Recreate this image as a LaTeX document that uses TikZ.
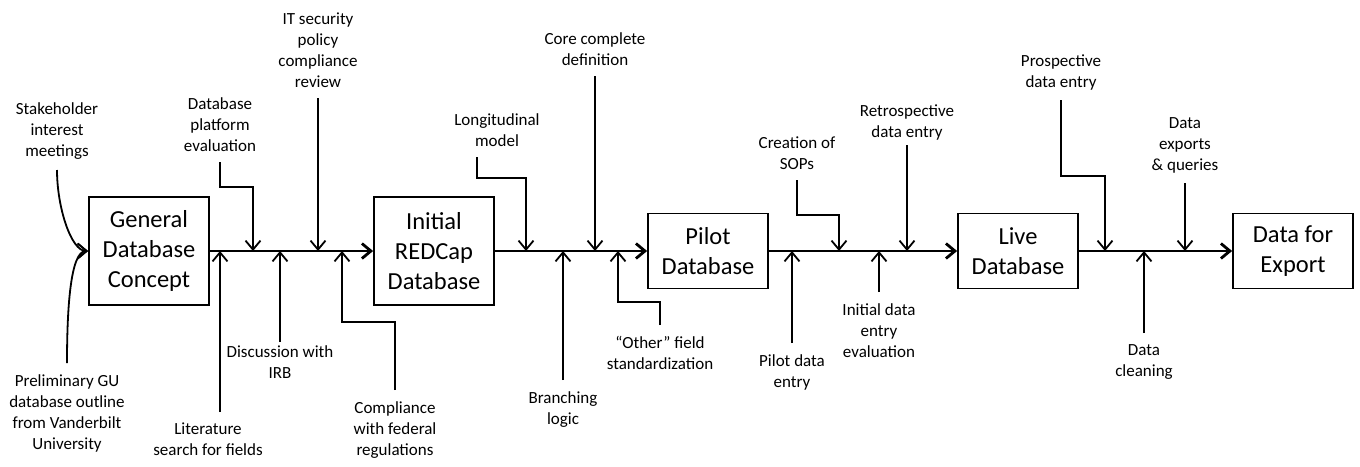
\documentclass[tikz,border=0pt]{standalone}
\usepackage{fontspec}
\setmainfont{Carlito}
\usetikzlibrary{positioning}
\usetikzlibrary{arrows.meta}
\tikzset{
    % Open barbed arrow heads, as in the original
    >={Straight Barb[length=9pt,width=15pt]},
%
    % Boxes for the stages of the database
    stage/.style={draw, line width=1.8pt, minimum width=120pt,
        align=center, font=\fontsize{24.5}{30}\selectfont},
    tall stage/.style={stage, minimum height=108pt},
    short stage/.style={stage, minimum height=75pt},
    % Labels for the inputs above and below the main line
    input/.style={align=center, font=\fontsize{17}{21}\selectfont},
    above input/.style={input, anchor=south, inner ysep=10pt},
    below input/.style={input, anchor=north, inner ysep=11pt},
    % Lines
    flow/.style={line width=2.8pt, ->},
    feed/.style={line width=1.8pt, ->},
}

\begin{document}
\begin{tikzpicture}[x=1pt, y=-1pt]
\useasboundingbox (0,0) rectangle (1360,466);

% The stages
\path
    (149,251) node (concept) [tall stage] {General\\Database\\Concept}
    (434,251) node (redcap) [tall stage] {Initial\\REDCap\\Database}
    (708,251) node (pilot) [short stage] {Pilot\\Database}
    (1018,251) node (live) [short stage] {Live\\Database}
    (1293,251) node (export) [short stage] {Data for\\Export};

\draw [flow] (concept) -- (redcap);
\draw [flow] (redcap) -- (pilot);
\draw [flow] (pilot) -- (live);
\draw [flow] (live) -- (export);

% Where the inputs meet the main line
\coordinate (platform in) at (253,251);
\coordinate (security in) at (318,251);
\coordinate (literature in) at (220,251);
\coordinate (irb in) at (280,251);
\coordinate (federal in) at (342,251);
\coordinate (longitudinal in) at (526,251);
\coordinate (core in) at (595,251);
\coordinate (branching in) at (563,251);
\coordinate (other in) at (618,251);
\coordinate (sops in) at (839,251);
\coordinate (retro in) at (907,251);
\coordinate (pilot entry in) at (792,251);
\coordinate (evaluation in) at (879,251);
\coordinate (prospective in) at (1105,251);
\coordinate (exports in) at (1185,251);
\coordinate (cleaning in) at (1144,251);

% Inputs to the general concept
\path
    (57,170) node (stakeholder) [above input]
        {Stakeholder\\interest\\meetings}
    (67,363) node (preliminary) [below input]
        {Preliminary GU\\database outline\\from Vanderbilt\\University}
    (220,162) node (platform) [above input]
        {Database\\platform\\evaluation}
    (318,98) node (security) [above input]
        {IT security\\policy\\compliance\\review}
    (208,412) node (literature) [below input]
        {Literature\\search for fields}
    (280,342) node (irb) [below input, inner ysep=3pt]
        {Discussion with\\IRB}
    (395,390) node (federal) [below input]
        {Compliance\\with federal\\regulations};

\draw [feed] (stakeholder.south)
    to [out=-90, in=180, out looseness=1.1, in looseness=0.5] (concept.west);
\draw [feed] (preliminary.north)
    to [out=90, in=180, out looseness=1.2, in looseness=0.4] (concept.west);
\draw [feed] (platform.south) -- ++(0,25) -| (platform in);
\draw [feed] (security.south) -- (security in);
\draw [feed] (literature in |- literature.north) -- (literature in);
\draw [feed] (irb.north) -- (irb in);
\draw [feed] (federal.north) -- ++(0,-68) -| (federal in);

% Inputs to the REDCap database
\path
    (497,157) node (longitudinal) [above input]
        {Longitudinal\\model}
    (595,76) node (core) [above input]
        {Core complete\\definition}
    (563,380) node (branching) [below input]
        {Branching\\logic}
    (660,325) node (other) [below input]
        {``Other'' field\\standardization};

\draw [feed] ([xshift=-20pt]longitudinal.south) -- ++(0,21) -| (longitudinal in);
\draw [feed] (core.south) -- (core in);
\draw [feed] (branching.north) -- (branching in);
\draw [feed] (other.north) -- ++(0,-23) -| (other in);

% Inputs to the pilot database
\path
    (797,180) node (sops) [above input]
        {Creation of\\SOPs}
    (907,145) node (retro) [above input, inner ysep=5pt]
        {Retrospective\\data entry}
    (792,343) node (pilot entry) [below input]
        {Pilot data\\entry}
    (879,292) node (evaluation) [below input]
        {Initial data\\entry\\evaluation};

\draw [feed] (sops.south) -- ++(0,35) -| (sops in);
\draw [feed] (retro.south) -- (retro in);
\draw [feed] (pilot entry.north) -- (pilot entry in);
\draw [feed] (evaluation.north) -- (evaluation in);

% Inputs to the live database
\path
    (1061,100) node (prospective) [above input]
        {Prospective\\data entry}
    (1185,183) node (exports) [above input]
        {Data\\exports\\\& queries}
    (1144,333) node (cleaning) [below input]
        {Data\\cleaning};

\draw [feed] (prospective.south) -- ++(0,76) -| (prospective in);
\draw [feed] (exports.south) -- (exports in);
\draw [feed] (cleaning.north) -- (cleaning in);

\end{tikzpicture}
\end{document}
